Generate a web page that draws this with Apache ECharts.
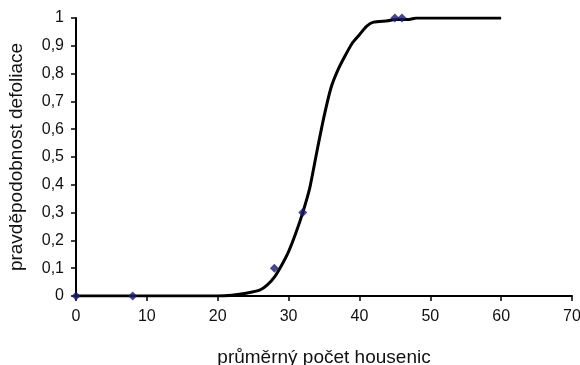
<!DOCTYPE html>
<html>
<head>
<meta charset="utf-8">
<script src="https://cdn.jsdelivr.net/npm/echarts@6/dist/echarts.min.js"></script>
<style>
  html, body { margin: 0; padding: 0; background: #fff; }
  #chart { width: 580px; height: 365px; }
</style>
</head>
<body>
<div id="chart"></div>
<script>
// fitted curve
const curveX = [0, 5, 10, 15, 20, 22, 24, 26, 27, 28, 29, 30, 31, 32, 33, 34, 35, 36, 37, 38, 39, 40, 41, 42, 44, 45, 47, 48, 50, 55, 60];
const curveY = [0, 0, 0, 0, 0, 0.003, 0.01, 0.022, 0.04, 0.068, 0.11, 0.16, 0.225, 0.3, 0.39, 0.52, 0.645, 0.75, 0.815, 0.865, 0.91, 0.94, 0.97, 0.985, 0.99, 0.995, 0.995, 1, 1, 1, 1];

// observed points
const obsX = [0, 8, 28, 32, 45, 46];
const obsY = [0, 0, 0.1, 0.3, 1, 1];

const xTitle = "průměrný počet housenic";
const yTitle = "pravděpodobnost defoliace";

const chart = echarts.init(document.getElementById("chart"));
const font = "Liberation Sans, Arial, sans-serif";

chart.setOption({
  animation: false,
  backgroundColor: "#fff",
  grid: { left: 76, right: 8, top: 18, bottom: 69, outerBoundsMode: "none" },
  xAxis: {
    type: "value",
    min: 0, max: 70, interval: 10,
    name: xTitle,
    nameLocation: "middle",
    nameGap: 52,
    nameTextStyle: { color: "#111", fontSize: 19, fontFamily: font },
    axisLine: { lineStyle: { color: "#000", width: 2 } },
    axisTick: { show: true, length: 5, lineStyle: { color: "#000", width: 1.5 } },
    axisLabel: { color: "#111", fontSize: 16, fontFamily: font, margin: 13 },
    splitLine: { show: false }
  },
  yAxis: {
    type: "value",
    min: 0, max: 1, interval: 0.1,
    name: yTitle,
    nameLocation: "middle",
    nameGap: 50,
    nameTextStyle: { color: "#111", fontSize: 19, fontFamily: font },
    axisLine: { show: true, lineStyle: { color: "#000", width: 2 } },
    axisTick: { show: true, length: 5, lineStyle: { color: "#000", width: 1.5 } },
    axisLabel: {
      color: "#111", fontSize: 16, fontFamily: font, margin: 12,
      formatter: v => String(Math.round(v * 10) / 10).replace(".", ",")
    },
    splitLine: { show: false }
  },
  series: [
    {
      type: "line",
      data: curveX.map((x, i) => [x, curveY[i]]),
      showSymbol: false,
      smooth: 0.2,
      lineStyle: { color: "#000", width: 3 },
      z: 2
    },
    {
      type: "scatter",
      data: obsX.map((x, i) => [x, obsY[i]]),
      symbol: "diamond",
      symbolSize: 9,
      itemStyle: { color: "#1c1a6b" },
      z: 3
    }
  ]
});
</script>
</body>
</html>
